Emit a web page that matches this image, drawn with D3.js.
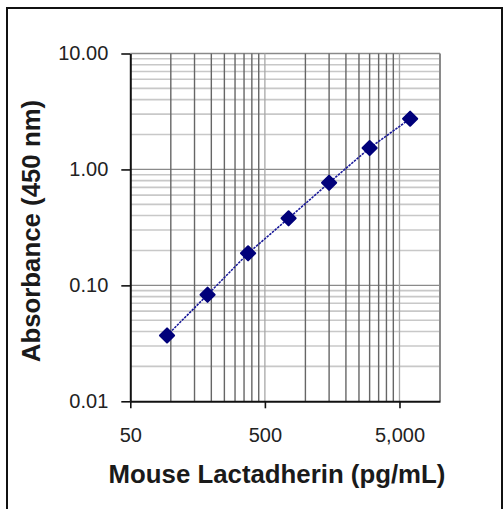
<!DOCTYPE html>
<html>
<head>
<meta charset="utf-8">
<script src="https://cdn.jsdelivr.net/npm/d3@7"></script>
<style>
  body { margin: 0; background: #fff; }
  text { font-family: "Liberation Sans", Arial, sans-serif; }
</style>
</head>
<body>
<div id="chart"></div>
<script>
// Standard curve - Mouse Lactadherin ELISA (log-log)

const concentrations = [93.75, 187.5, 375, 750, 1500, 3000, 6000];
const absorbance = [0.037, 0.083, 0.189, 0.379, 0.767, 1.53, 2.74];

const xTicks = [50, 500, 5000];
const yTicks = [0.01, 0.1, 1, 10];
const xDomain = [50, 10000];
const yDomain = [0.01, 10];

const width = 503;
const height = 509;
const margin = {top: 53.5, right: 63, bottom: 107.7, left: 130.3};

const innerWidth = width - margin.left - margin.right;
const innerHeight = height - margin.top - margin.bottom;

const svg = d3.select("#chart")
    .append("svg")
    .attr("width", width)
    .attr("height", height);

// outer frame (open at the bottom, like the cropped source)
svg.append("path")
    .attr("d", "M7,509 V8 H502 V509")
    .attr("fill", "none")
    .attr("stroke", "#111")
    .attr("stroke-width", 2);

const inner = svg.append("g")
    .attr("transform", `translate(${margin.left}, ${margin.top})`);

const xScale = d3.scaleLog()
    .domain(xDomain)
    .range([0, innerWidth]);

const yScale = d3.scaleLog()
    .domain(yDomain)
    .range([innerHeight, 0]);

// minor gridlines: multiples of the major steps
const xMinor = [];
[50, 500].forEach(b => { for (let k = 2; k <= 9; k++) xMinor.push(b * k); });
const yMinor = [];
[0.01, 0.1, 1].forEach(b => { for (let k = 2; k <= 9; k++) yMinor.push(+(b * k).toFixed(3)); });

inner.selectAll(".hminor")
    .data(yMinor)
    .join("line")
    .attr("x1", 0)
    .attr("x2", innerWidth)
    .attr("y1", d => yScale(d))
    .attr("y2", d => yScale(d))
    .attr("stroke", "#c8c8c8")
    .attr("stroke-width", 1.6);

inner.selectAll(".hmajor")
    .data([0.1, 1, 10])
    .join("line")
    .attr("x1", 0)
    .attr("x2", innerWidth)
    .attr("y1", d => yScale(d))
    .attr("y2", d => yScale(d))
    .attr("stroke", "#8a8a8a")
    .attr("stroke-width", 1.3);

inner.selectAll(".vminor")
    .data(xMinor)
    .join("line")
    .attr("x1", d => xScale(d))
    .attr("x2", d => xScale(d))
    .attr("y1", 0)
    .attr("y2", innerHeight)
    .attr("stroke", "#666")
    .attr("stroke-width", 1.4);

inner.selectAll(".vmajor")
    .data([500, 5000, 10000])
    .join("line")
    .attr("x1", d => xScale(d))
    .attr("x2", d => xScale(d))
    .attr("y1", 0)
    .attr("y2", innerHeight)
    .attr("stroke", d => d === 10000 ? "#8a8a8a" : "#a8a8a8")
    .attr("stroke-width", d => d === 10000 ? 2 : 1.3);

// axes
const xAxis = d3.axisBottom(xScale)
    .tickValues(xTicks)
    .tickFormat(d3.format(","))
    .tickSize(7)
    .tickPadding(20)
    .tickSizeOuter(0);

const yAxis = d3.axisLeft(yScale)
    .tickValues(yTicks)
    .tickFormat(d3.format(".2f"))
    .tickSize(9)
    .tickPadding(13)
    .tickSizeOuter(0);

const gx = inner.append("g")
    .attr("transform", `translate(0, ${innerHeight})`)
    .call(xAxis);

const gy = inner.append("g")
    .call(yAxis);

[gx, gy].forEach(g => {
    g.select(".domain").attr("stroke", "#111").attr("stroke-width", 2);
    g.selectAll(".tick line").attr("stroke", "#111").attr("stroke-width", 1.6);
    g.selectAll(".tick text")
        .attr("fill", "#222")
        .style("font-size", "20px")
        .style("font-family", "'Liberation Sans', Arial, sans-serif");
});

// series
const points = concentrations.map((c, i) => ({x: c, y: absorbance[i]}));

const line = d3.line()
    .x(d => xScale(d.x))
    .y(d => yScale(d.y));

inner.append("path")
    .datum(points)
    .attr("fill", "none")
    .attr("stroke", "#1a1a9a")
    .attr("stroke-width", 1.6)
    .attr("stroke-dasharray", "2.5,1")
    .attr("d", line);

inner.selectAll(".marker")
    .data(points)
    .join("path")
    .attr("d", d3.symbol(d3.symbolSquare, 100))
    .attr("transform", d => `translate(${xScale(d.x)}, ${yScale(d.y)}) rotate(45)`)
    .attr("fill", "#00007a")
    .attr("stroke", "#00007a")
    .attr("stroke-width", 2)
    .attr("stroke-linejoin", "round");

// axis titles
svg.append("text")
    .attr("x", 277)
    .attr("y", 483)
    .attr("text-anchor", "middle")
    .attr("font-weight", "bold")
    .attr("font-size", "25.8px")
    .attr("fill", "#1a1a1a")
    .text("Mouse Lactadherin (pg/mL)");

svg.append("text")
    .attr("transform", "translate(40, 231) rotate(-90)")
    .attr("text-anchor", "middle")
    .attr("font-weight", "bold")
    .attr("font-size", "25.8px")
    .attr("fill", "#1a1a1a")
    .text("Absorbance (450 nm)");
</script>
</body>
</html>
